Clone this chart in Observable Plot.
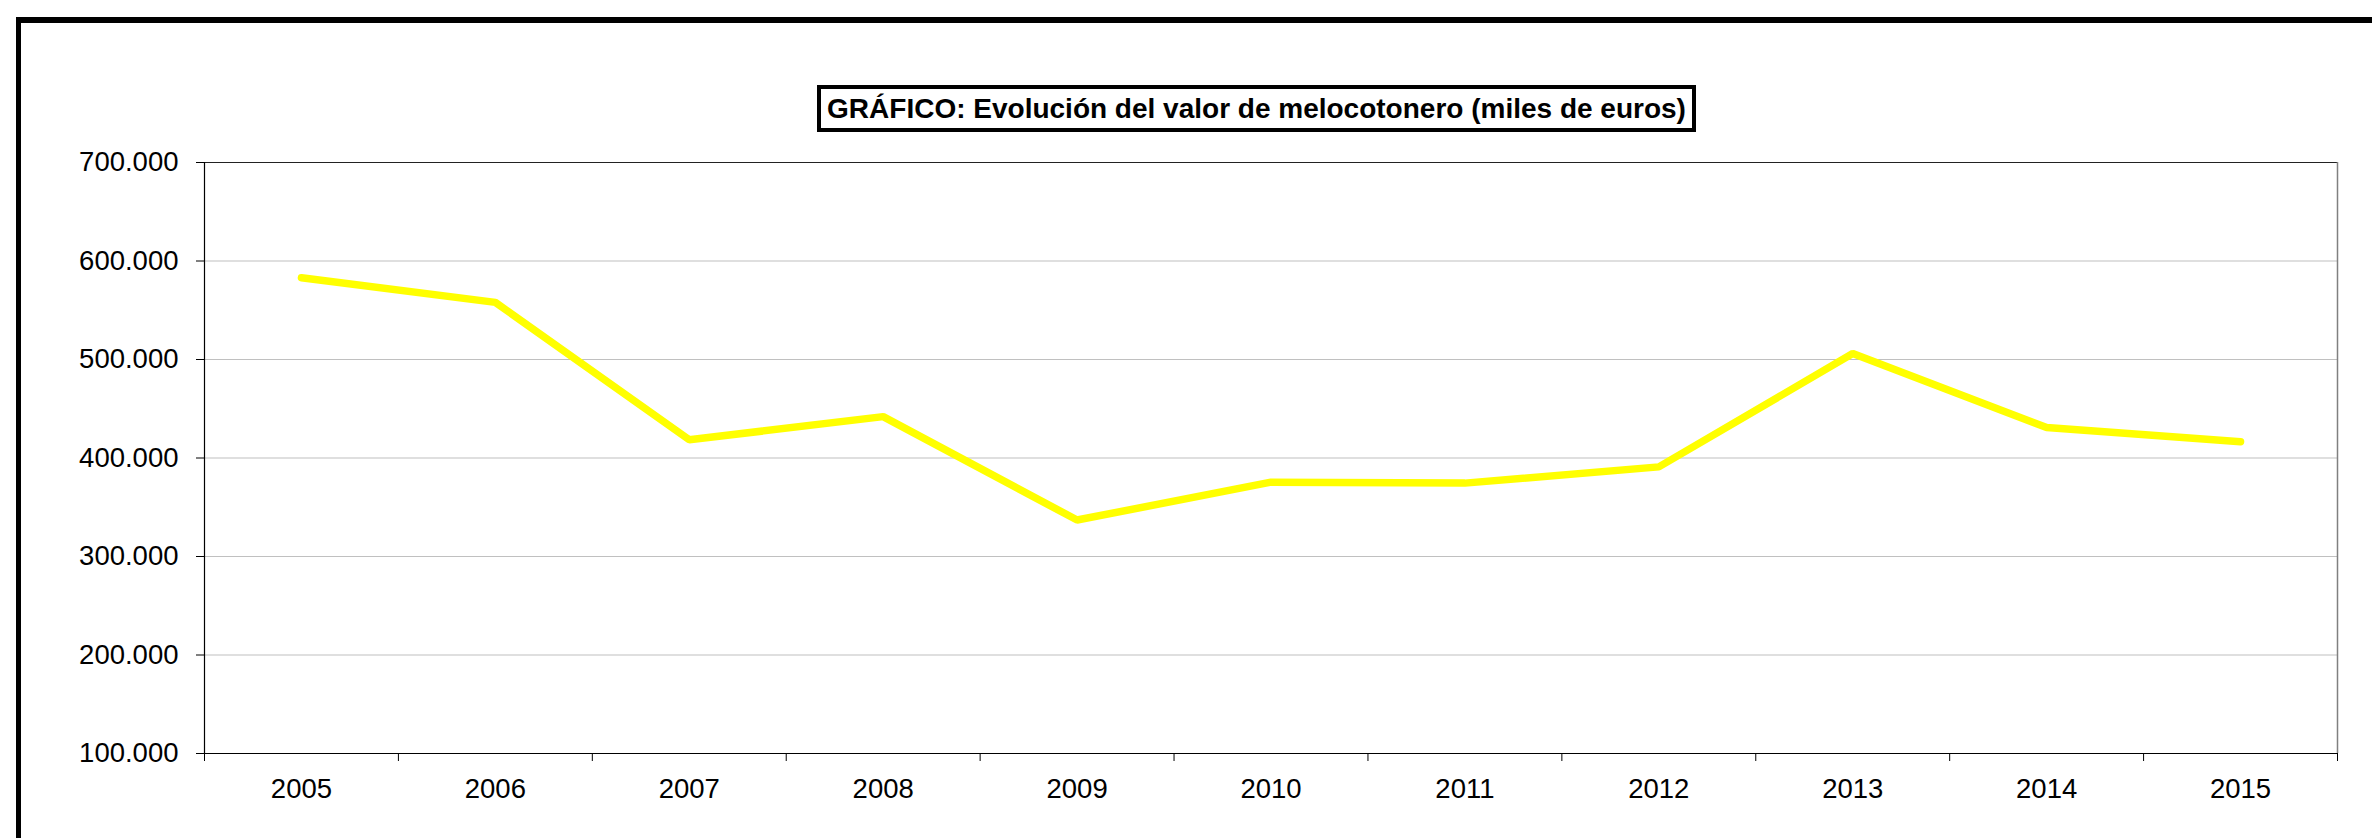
<!DOCTYPE html>
<html>
<head>
<meta charset="utf-8">
<script src="https://cdn.jsdelivr.net/npm/d3@7"></script>
<script src="https://cdn.jsdelivr.net/npm/@observablehq/plot@0.6"></script>
<style>
  html, body { margin: 0; padding: 0; background: #fff; overflow: hidden; }
  #wrap { position: relative; width: 2372px; height: 838px; overflow: hidden; font-family: "Liberation Sans", Arial, sans-serif; }
  #frame { position: absolute; left: 16px; top: 17px; width: 2400px; height: 900px; border-left: 5px solid #000; border-top: 6px solid #000; box-sizing: border-box; }
  #chart { position: absolute; left: 0; top: 0; }
  #title { position: absolute; left: 817px; top: 85px; width: 879px; height: 47px; box-sizing: border-box; border: 4px solid #000; background: #fff;
           font-weight: bold; font-size: 28px; line-height: 39px; text-align: center; white-space: nowrap; color: #000; z-index: 2; }
</style>
</head>
<body>
<div id="wrap">
  <div id="frame"></div>
  <div id="chart"></div>
  <div id="title">GRÁFICO: Evolución del valor de melocotonero (miles de euros)</div>
</div>
<script>
// Data (miles de euros)
const years = [2005, 2006, 2007, 2008, 2009, 2010, 2011, 2012, 2013, 2014, 2015];
const values = [583000, 558000, 418500, 442000, 337000, 375500, 374500, 391000, 506000, 431000, 416500];
const yTicks = [100000, 200000, 300000, 400000, 500000, 600000, 700000];
const gridTicks = [200000, 300000, 400000, 500000, 600000];

const data = years.map((year, i) => ({year, value: values[i]}));
const boundaries = [...years.map(y => y - 0.5), years[years.length - 1] + 0.5];
const xMin = boundaries[0], xMax = boundaries[boundaries.length - 1];
const yMin = yTicks[0], yMax = yTicks[yTicks.length - 1];

const es = d3.formatLocale({decimal: ",", thousands: ".", grouping: [3], currency: ["", " €"]});
const fmt = es.format(",.0f");

const chart = Plot.plot({
  width: 2372,
  height: 838,
  marginLeft: 204,
  marginRight: 35,
  marginTop: 162,
  marginBottom: 85,
  style: {fontFamily: "'Liberation Sans', Arial, sans-serif", fontSize: "27px", color: "#000", background: "transparent"},
  x: {type: "linear", domain: [xMin, xMax], label: null, axis: null},
  y: {domain: [yMin, yMax], label: null, axis: null},
  marks: [
    Plot.ruleY(gridTicks, {stroke: "#c0c0c0", strokeWidth: 1.2}),
    Plot.ruleY([yMax], {stroke: "#222", strokeWidth: 1.2}),
    Plot.ruleX([xMax], {stroke: "#808080", strokeWidth: 1.5}),
    Plot.axisY(yTicks, {tickSize: 8, tickPadding: 18, tickFormat: fmt, fontSize: 27.5, label: null, stroke: "#000"}),
    Plot.axisX(boundaries, {tickSize: 8, tickFormat: () => "", label: null, stroke: "#000"}),
    Plot.axisX(years, {tickSize: 0, tickPadding: 25, tickFormat: d => String(d), fontSize: 27.5, label: null}),
    Plot.line(data, {x: "year", y: "value", stroke: "#ffff00", strokeWidth: 7.5, strokeLinecap: "round", strokeLinejoin: "miter"}),
    Plot.ruleX([xMin], {stroke: "#000", strokeWidth: 1.2}),
    Plot.ruleY([yMin], {stroke: "#000", strokeWidth: 1.2})
  ]
});
document.getElementById("chart").appendChild(chart);
</script>
</body>
</html>
